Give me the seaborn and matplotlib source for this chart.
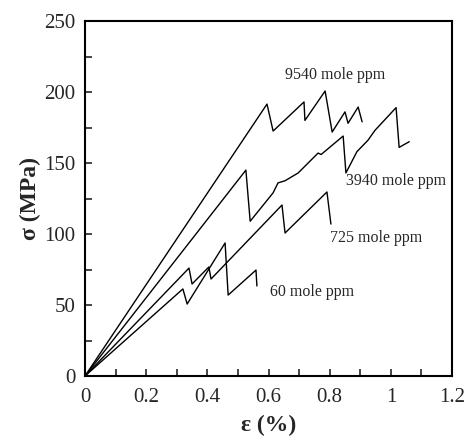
import matplotlib
matplotlib.use('Agg')
import matplotlib.pyplot as plt
import seaborn as sns
import pandas as pd

# strain (%) and stress (MPa)
strain_60 = [0, 0.320, 0.334, 0.458, 0.468, 0.559, 0.562]
stress_60 = [0, 61.3, 50.7, 93.7, 57.0, 74.6, 63.4]

strain_725 = [0, 0.340, 0.350, 0.405, 0.412, 0.644, 0.654, 0.791, 0.804]
stress_725 = [0, 76.0, 64.8, 76.8, 68.3, 120.4, 100.7, 129.6, 107.0]

strain_3940 = [0, 0.526, 0.540, 0.615, 0.631, 0.654, 0.697, 0.762, 0.772,
               0.844, 0.853, 0.889, 0.925, 0.948, 1.017, 1.027, 1.060]
stress_3940 = [0, 145.0, 109.0, 129.0, 136.0, 137.5, 143.0, 157.0, 156.0,
               169.0, 143.0, 158.0, 166.0, 173.0, 189.0, 161.0, 165.0]

strain_9540 = [0, 0.595, 0.615, 0.716, 0.719, 0.785, 0.808, 0.850, 0.860, 0.893, 0.906]
stress_9540 = [0, 191.5, 172.5, 193.0, 180.0, 200.7, 171.8, 186.0, 178.0, 189.4, 179.0]

labels = ['60 mole ppm', '725 mole ppm', '3940 mole ppm', '9540 mole ppm']
label_x = [0.605, 0.801, 0.853, 0.654]
label_y = [59, 97, 137, 212]

sns.set_style('ticks')
plt.rcParams['font.family'] = ['Liberation Serif', 'DejaVu Serif']

fig = plt.figure(figsize=(4.67, 4.36), dpi=100)
ax = fig.add_axes([0.182, 0.1376, 0.786, 0.8142])

curves = [(strain_60, stress_60), (strain_725, stress_725),
          (strain_3940, stress_3940), (strain_9540, stress_9540)]
for xs, ys in curves:
    df = pd.DataFrame({'strain': xs, 'stress': ys})
    sns.lineplot(data=df, x='strain', y='stress', sort=False, estimator=None,
                 color='black', linewidth=1.0, ax=ax)

for name, lx, ly in zip(labels, label_x, label_y):
    ax.text(lx, ly, name, fontsize=11.5, va='center', ha='left')

ax.set_xlim(0, 1.2)
ax.set_ylim(0, 250)
ax.set_xticks([0, 0.2, 0.4, 0.6, 0.8, 1.0, 1.2])
ax.set_xticklabels(['0', '0.2', '0.4', '0.6', '0.8', '1', '1.2'])
ax.set_xticks([0.1, 0.3, 0.5, 0.7, 0.9, 1.1], minor=True)
ax.set_yticks([0, 50, 100, 150, 200, 250])
ax.set_yticks([25, 75, 125, 175, 225], minor=True)
ax.tick_params(which='both', direction='in', length=5, width=1.2,
               top=False, right=False, labelsize=15)
ax.tick_params(axis='x', pad=8.5)
ax.tick_params(axis='y', pad=7)
for sp in ax.spines.values():
    sp.set_linewidth(1.5)
    sp.set_color('black')

ax.set_xlabel('ε (%)', fontsize=17, fontweight='bold', labelpad=5.5)
ax.set_ylabel('σ (MPa)', fontsize=17, fontweight='bold', labelpad=2.5)

fig.savefig('out.png', dpi=100)
